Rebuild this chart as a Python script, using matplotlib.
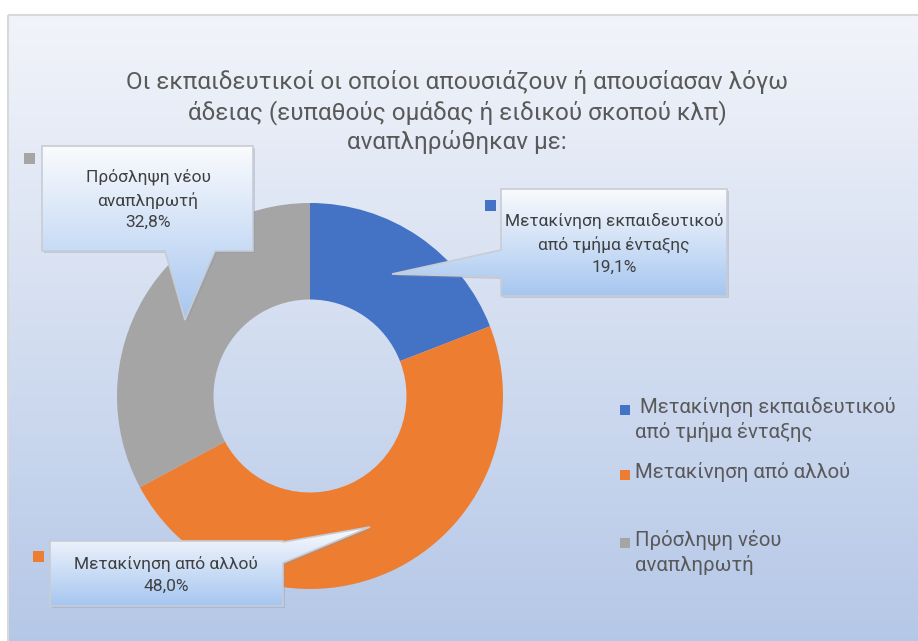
import numpy as np
import matplotlib
matplotlib.use("Agg")
from matplotlib import pyplot as plt
from matplotlib.path import Path
from matplotlib.patches import PathPatch, Rectangle

plt.rcParams['font.family'] = ['Roboto', 'DejaVu Sans']

title = ("Οι εκπαιδευτικοί οι οποίοι απουσιάζουν ή απουσίασαν λόγω\n"
         "άδειας (ευπαθούς ομάδας ή ειδικού σκοπού κλπ)\n"
         "αναπληρώθηκαν με:")
categories = ["Μετακίνηση εκπαιδευτικού\nαπό τμήμα ένταξης",
              "Μετακίνηση από αλλού",
              "Πρόσληψη νέου\nαναπληρωτή"]
values = [19.1, 48.0, 32.8]
colors = ["#4472C4", "#ED7D31", "#A5A5A5"]

W, H = 918, 641
fig = plt.figure(figsize=(W / 100, H / 100), dpi=100)
fig.patch.set_facecolor("white")

# background axes in pixel coords
bg = fig.add_axes([0, 0, 1, 1], zorder=0)
bg.set_xlim(0, W)
bg.set_ylim(H, 0)
bg.axis("off")
grad = np.linspace(0, 1, 256).reshape(-1, 1)
top_c = np.array([242, 244, 250]) / 255
bot_c = np.array([180, 199, 231]) / 255
img = top_c + (bot_c - top_c) * grad[..., None]
bg.imshow(img, extent=(8, W + 10, H + 10, 15), aspect="auto", zorder=0)
bg.add_patch(Rectangle((8, 15), W, H, fill=False, ec="#D9D9D9", lw=1.5, zorder=1))
bg.text(457, 112, title, ha="center", va="center", fontsize=17.5,
        color="#595959", linespacing=1.3)

# donut
cx, cy, R = 310, 396, 193
pie_ax = fig.add_axes([(cx - R) / W, (H - cy - R) / H, 2 * R / W, 2 * R / H], zorder=1)
pie_ax.pie(values, colors=colors, startangle=90, counterclock=False,
           wedgeprops=dict(width=0.5, edgecolor="none"), radius=1)
pie_ax.set_xlim(-1, 1)
pie_ax.set_ylim(-1, 1)
pie_ax.axis("off")

# overlay for callouts and legend
ov = fig.add_axes([0, 0, 1, 1], zorder=2)
ov.set_xlim(0, W)
ov.set_ylim(H, 0)
ov.axis("off")
ov.patch.set_alpha(0)


def callout(x0, y0, x1, y1, ptr):
    side, a, b, tip = ptr
    if side == "bottom":
        pts = [(x0, y0), (x1, y0), (x1, y1), (b, y1), tip, (a, y1), (x0, y1)]
    elif side == "left":
        pts = [(x0, y0), (x1, y0), (x1, y1), (x0, y1), (x0, b), tip, (x0, a)]
    else:
        pts = [(x0, y0), (x1, y0), (x1, a), tip, (x1, b), (x1, y1), (x0, y1)]
    path = Path(pts + [pts[0]], closed=True)
    shadow = PathPatch(Path([(px + 2, py + 2) for px, py in pts] + [(x0 + 2, y0 + 2)], closed=True),
                       fc="#8896B0", ec="none", alpha=0.35, zorder=2)
    ov.add_patch(shadow)
    ov.add_patch(PathPatch(path, fc="none", ec="#C8CCD4", lw=1.2, zorder=4))
    xs = [p[0] for p in pts]
    ys = [p[1] for p in pts]
    g = np.linspace(0, 1, 256).reshape(-1, 1)
    c0 = np.array([250, 251, 253]) / 255
    c1 = np.array([166, 198, 240]) / 255
    im = ov.imshow(c0 + (c1 - c0) * g[..., None],
                   extent=(min(xs), max(xs), max(ys), min(ys)),
                   aspect="auto", zorder=3)
    im.set_clip_path(PathPatch(path, transform=ov.transData))


def pct(v):
    return f"{v:.1f}".replace(".", ",") + "%"


lab_kw = dict(ha="center", va="center", fontsize=12.5, color="#404040",
              linespacing=1.5, zorder=5)

# gray callout
callout(42, 146, 253, 251, ("bottom", 165, 215, (185, 320)))
ov.text(148, 199, categories[2] + "\n" + pct(values[2]), **lab_kw)
ov.add_patch(Rectangle((24, 153), 11, 11, fc=colors[2], ec="none", zorder=5))

# blue callout
callout(501, 189, 727, 296, ("left", 250, 277, (392, 274)))
ov.text(614, 244, categories[0] + "\n" + pct(values[0]), **lab_kw)
ov.add_patch(Rectangle((485, 200), 11, 11, fc=colors[0], ec="none", zorder=5))

# orange callout
callout(50, 541, 283, 606, ("right", 542, 563, (370, 527)))
ov.text(166, 575, categories[1] + "\n" + pct(values[1]), **lab_kw)
ov.add_patch(Rectangle((33, 551), 11, 11, fc=colors[1], ec="none", zorder=5))

# legend
leg_y = [410, 475, 543]
leg_text = [" " + categories[0], categories[1], categories[2]]
for y, lab, c in zip(leg_y, leg_text, colors):
    ov.add_patch(Rectangle((620, y - 5), 10, 10, fc=c, ec="none", zorder=5))
    ov.text(635, y - 13, lab, ha="left", va="top", fontsize=14.7,
            color="#595959", linespacing=1.3, zorder=5)

fig.savefig("out.png", dpi=100)
